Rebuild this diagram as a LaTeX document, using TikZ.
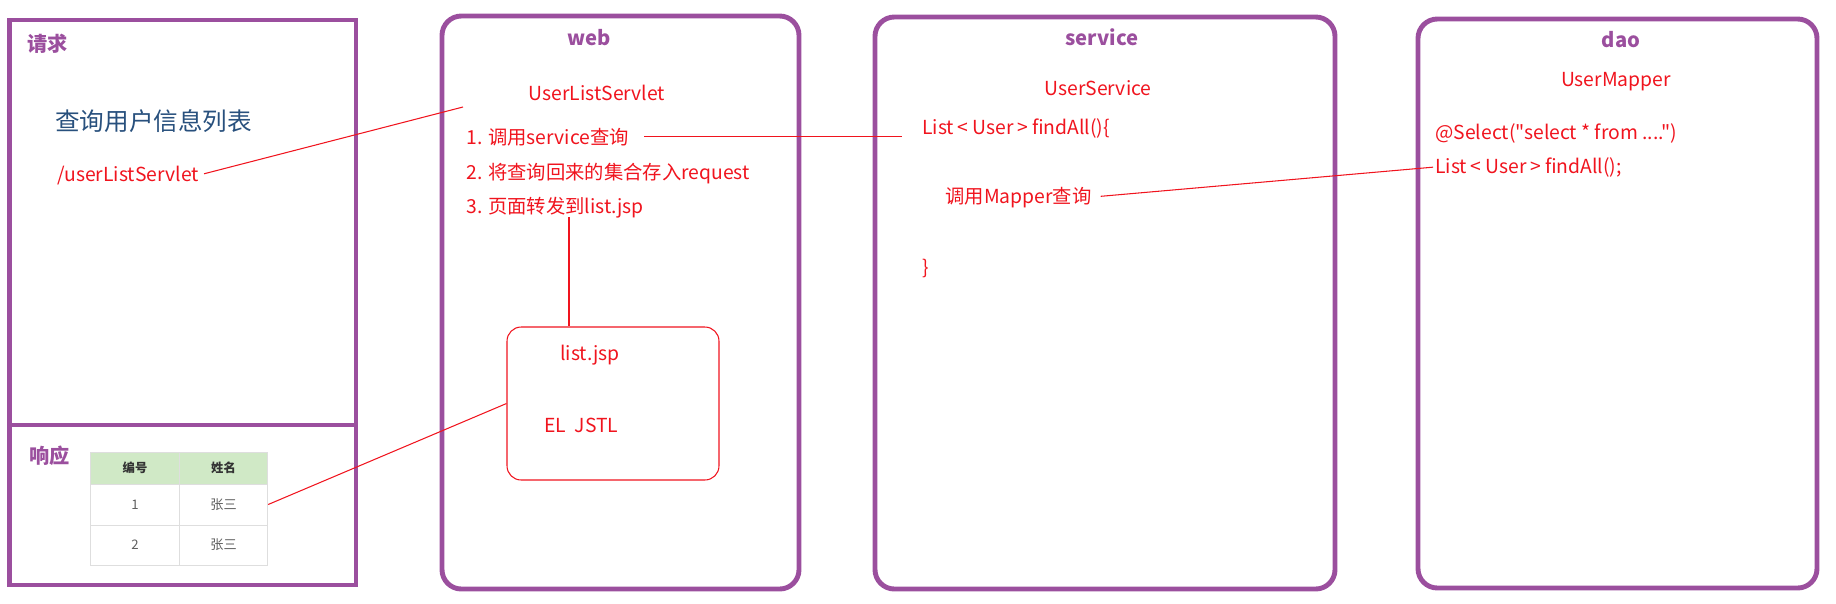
\documentclass[tikz,border=0pt]{standalone}
\usepackage{fontspec}
\setmainfont{Noto Sans CJK SC}[Ligatures=TeXOff]
\definecolor{purp}{RGB}{155,79,158}
\definecolor{notered}{RGB}{240,20,30}
\definecolor{headblue}{RGB}{40,80,125}
\definecolor{headgreen}{RGB}{208,233,198}
\definecolor{gridgray}{RGB}{222,222,222}
\definecolor{celltext}{RGB}{95,95,95}
\newcommand{\lt}{\kern0.2em<\kern0.2em}
\newcommand{\gt}{\kern0.2em>\kern0.2em}
\begin{document}
\begin{tikzpicture}[x=0.02cm,y=-0.02cm,
    reqbox/.style={draw=purp,line width=2.8pt},
    layerbox/.style={draw=purp,line width=2.8pt,rounded corners=11pt},
    layertitle/.style={text=purp,inner sep=0pt,font=\bfseries\fontsize{11.5}{13}\selectfont},
    note/.style={text=notered,inner sep=0pt,font=\fontsize{11}{13}\selectfont},
    link/.style={draw=notered,line width=0.6pt},
    headcell/.style={draw=gridgray,fill=headgreen,line width=0.5pt,minimum width=1.77cm,minimum height=0.64cm,
      font=\bfseries\fontsize{7}{8}\selectfont,text=black!80},
    bodycell/.style={draw=gridgray,line width=0.5pt,minimum width=1.77cm,font=\fontsize{7.5}{8}\selectfont,text=celltext}]
    \useasboundingbox (0,0) rectangle (1836,603);
    % request / response column
    \draw[reqbox] (9.5,20) rectangle (356,585);
    \draw[reqbox] (9.5,425) -- (356,425);
    \node[layertitle,anchor=base west] (reqtitle) at (27,51) {请求};
    \node[text=headblue,inner sep=0pt,anchor=base west,font=\fontsize{14}{16}\selectfont] (query) at (55,130) {查询用户信息列表};
    \node[note,anchor=base west] (url) at (57,181) {/userListServlet};
    \node[layertitle,anchor=base west] (resptitle) at (29,463) {响应};
    \node[headcell] (h1) at (135,468) {编号};
    \node[headcell] (h2) at (223.5,468) {姓名};
    \node[bodycell,minimum height=0.82cm] (r11) at (135,504.5) {1};
    \node[bodycell,minimum height=0.82cm] (r12) at (223.5,504.5) {张三};
    \node[bodycell,minimum height=0.8cm] (r21) at (135,545) {2};
    \node[bodycell,minimum height=0.8cm] (r22) at (223.5,545) {张三};
    % web layer
    \draw[layerbox] (442,16) rectangle (799,589);
    \node[layertitle,anchor=base] (webtitle) at (589,45) {web};
    \node[note,anchor=base] (servlet) at (597,100) {UserListServlet};
    \node[note,anchor=base west] (step1) at (466,144) {1. 调用service查询};
    \node[note,anchor=base west] (step2) at (466,179) {2. 将查询回来的集合存入request};
    \node[note,anchor=base west] (step3) at (466,213) {3. 页面转发到list.jsp};
    \node[draw=notered,line width=0.6pt,rounded corners=8pt,minimum width=4.24cm,minimum height=3.06cm] (listbox) at (613,403.5) {};
    \node[note,anchor=base] (jspname) at (590,360) {list.jsp};
    \node[note,anchor=base west] (eljstl) at (544,432) {EL\ \ JSTL};
    \coordinate (srvin) at (463,107);
    \coordinate (jspdrop) at (569,217);
    % service layer
    \draw[layerbox] (875,17) rectangle (1335,589);
    \node[layertitle,anchor=base] (srvtitle) at (1102,45) {service};
    \node[note,anchor=base] (usersrv) at (1098,95) {UserService};
    \node[note,anchor=base west] (findall) at (922,134) {List\lt User\gt findAll()\{};
    \node[note,anchor=base west] (mapcall) at (945,203) {调用Mapper查询};
    \node[note,anchor=base west] (closing) at (922,274) {\}};
    % dao layer
    \draw[layerbox] (1418,19) rectangle (1817,588);
    \node[layertitle,anchor=base] (daotitle) at (1621,47) {dao};
    \node[note,anchor=base] (mapper) at (1616,86) {UserMapper};
    \node[note,anchor=base west] (select) at (1435,139) {@Select("select * from ....")};
    \node[note,anchor=base west] (dfind) at (1435,173) {List\lt User\gt findAll();};
    % links
    \draw[link,shorten <=0.1cm] (url.east) -- (srvin);
    \draw[link,shorten <=0.3cm,shorten >=0.4cm] (step1.east) -- (step1.east -| findall.west);
    \draw[link,shorten <=0.18cm,shorten >=0.04cm] (mapcall.east) -- (dfind.west);
    \draw[link] (jspdrop) -- (jspdrop |- listbox.north);
    \draw[link] (r12.east) -- (listbox.west);
\end{tikzpicture}
\end{document}
